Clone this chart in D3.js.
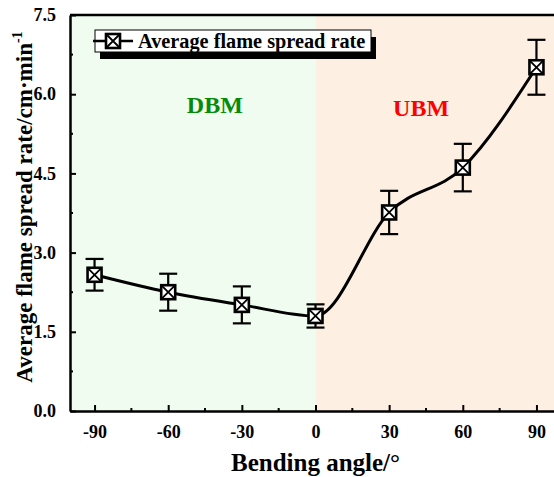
<!DOCTYPE html>
<html>
<head>
<meta charset="utf-8">
<script src="https://cdn.jsdelivr.net/npm/d3@7"></script>
<style>
  body { margin: 0; background: #fff; }
  text { font-family: "Liberation Serif", "Times New Roman", serif; font-weight: bold; }
</style>
</head>
<body>
<div id="chart"></div>
<script>
// bending angle (degrees) and measured spread rate
const angles = [-90, -60, -30, 0, 30, 60, 90];
const rates = [2.58, 2.25, 2.01, 1.80, 3.76, 4.61, 6.51];
const errors = [0.30, 0.35, 0.35, 0.22, 0.41, 0.45, 0.52];
const xTicks = [-90, -60, -30, 0, 30, 60, 90];
const yTicks = [0, 1.5, 3.0, 4.5, 6.0, 7.5];

const width = 554, height = 477;
const margin = {top: 15, left: 70};
const plotW = 491, plotH = 396;

const data = angles.map((a, i) => ({angle: a, rate: rates[i], err: errors[i]}));

const xScale = d3.scaleLinear().domain([-100, 100]).range([0, plotW]);
const yScale = d3.scaleLinear().domain([0, 7.5]).range([plotH, 0]);

const svg = d3.select('#chart')
  .append('svg')
    .attr('width', width)
    .attr('height', height)
  .append('g')
    .attr('transform', `translate(${margin.left}, ${margin.top})`);

// background regions
svg.append('rect')
  .attr('x', 0).attr('y', 0)
  .attr('width', xScale(0)).attr('height', plotH)
  .attr('fill', '#effcef');
svg.append('rect')
  .attr('x', xScale(0)).attr('y', 0)
  .attr('width', plotW - xScale(0)).attr('height', plotH)
  .attr('fill', '#fdf0e3');

svg.append('text')
  .attr('x', xScale(-41)).attr('y', 98)
  .attr('text-anchor', 'middle')
  .attr('font-size', 24)
  .attr('fill', '#078a07')
  .text('DBM');
svg.append('text')
  .attr('x', xScale(43)).attr('y', 101)
  .attr('text-anchor', 'middle')
  .attr('font-size', 24)
  .attr('fill', '#ff0000')
  .text('UBM');

// axes
const xAxis = svg.append('g')
  .attr('transform', `translate(0, ${plotH})`)
  .call(d3.axisBottom(xScale).tickValues(xTicks).tickFormat((d) => String(d))
    .tickSizeInner(-6).tickSizeOuter(0).tickPadding(14));
xAxis.append('g').selectAll('line')
  .data(d3.range(-75, 100, 30))
  .join('line')
    .attr('x1', (d) => xScale(d)).attr('x2', (d) => xScale(d))
    .attr('y1', 0).attr('y2', -3)
    .attr('stroke', '#000').attr('stroke-width', 2);

const yAxis = svg.append('g')
  .call(d3.axisLeft(yScale).tickValues(yTicks).tickFormat(d3.format('.1f'))
    .tickSizeInner(-6).tickSizeOuter(0).tickPadding(14));
yAxis.append('g').selectAll('line')
  .data(d3.range(0.75, 7.5, 1.5))
  .join('line')
    .attr('y1', (d) => yScale(d)).attr('y2', (d) => yScale(d))
    .attr('x1', 0).attr('x2', 3)
    .attr('stroke', '#000').attr('stroke-width', 2);

[xAxis, yAxis].forEach((ax) => {
  ax.select('.domain').attr('stroke-width', 2.5);
  ax.selectAll('.tick line').attr('stroke-width', 2);
  ax.selectAll('.tick text').attr('font-size', 18).attr('font-family', '"Liberation Serif", serif').attr('font-weight', 'bold');
});

// top border
svg.append('line')
  .attr('x1', 0).attr('x2', plotW)
  .attr('y1', 0).attr('y2', 0)
  .attr('stroke', '#000').attr('stroke-width', 2.5);

// axis titles
svg.append('text')
  .attr('x', xScale(0)).attr('y', 456)
  .attr('text-anchor', 'middle')
  .attr('font-size', 25)
  .text('Bending angle/°');

const yTitle = svg.append('text')
  .attr('transform', `translate(-38, 192) rotate(-90)`)
  .attr('text-anchor', 'middle')
  .attr('font-size', 23);
yTitle.append('tspan').text('Average flame spread rate/cm·min');
yTitle.append('tspan').attr('dy', -10).attr('font-size', 14).text('-1');

// error bars
const bars = svg.append('g').selectAll('g')
  .data(data)
  .join('g');
bars.append('line')
  .attr('x1', (d) => xScale(d.angle)).attr('x2', (d) => xScale(d.angle))
  .attr('y1', (d) => yScale(d.rate - d.err)).attr('y2', (d) => yScale(d.rate + d.err))
  .attr('stroke', '#000').attr('stroke-width', 2.2);
bars.selectAll('.cap')
  .data((d) => [d.rate - d.err, d.rate + d.err].map((v) => ({angle: d.angle, v})))
  .join('line')
    .attr('class', 'cap')
    .attr('x1', (d) => xScale(d.angle) - 9).attr('x2', (d) => xScale(d.angle) + 9)
    .attr('y1', (d) => yScale(d.v)).attr('y2', (d) => yScale(d.v))
    .attr('stroke', '#000').attr('stroke-width', 2.2);

// line
const line = d3.line()
  .x((d) => xScale(d.angle))
  .y((d) => yScale(d.rate))
  .curve(d3.curveMonotoneX);

svg.append('path')
  .datum(data)
  .attr('fill', 'none')
  .attr('stroke', '#000')
  .attr('stroke-width', 3)
  .attr('d', line);

function drawMarker(g, cx, cy) {
  const s = 7;
  g.append('rect')
    .attr('x', cx - s).attr('y', cy - s)
    .attr('width', 2 * s).attr('height', 2 * s)
    .attr('fill', '#fff').attr('stroke', '#000').attr('stroke-width', 2.6);
  g.append('path')
    .attr('d', `M${cx - s},${cy - s}L${cx + s},${cy + s}M${cx + s},${cy - s}L${cx - s},${cy + s}`)
    .attr('stroke', '#000').attr('stroke-width', 1.8);
}

const markers = svg.append('g');
data.forEach((d) => drawMarker(markers, xScale(d.angle), yScale(d.rate)));

// legend
const legend = svg.append('g').attr('transform', 'translate(25, 15)');
legend.append('rect')
  .attr('x', 5).attr('y', 7)
  .attr('width', 276).attr('height', 22)
  .attr('fill', '#000');
legend.append('rect')
  .attr('x', 0).attr('y', 0)
  .attr('width', 276).attr('height', 22)
  .attr('fill', '#fff').attr('stroke', '#000').attr('stroke-width', 1);
legend.append('line')
  .attr('x1', -2).attr('x2', 38)
  .attr('y1', 11).attr('y2', 11)
  .attr('stroke', '#000').attr('stroke-width', 2.5);
drawMarker(legend, 18, 11);
legend.append('text')
  .attr('x', 43).attr('y', 18)
  .attr('font-size', 20.3)
  .text('Average flame spread rate');
</script>
</body>
</html>
